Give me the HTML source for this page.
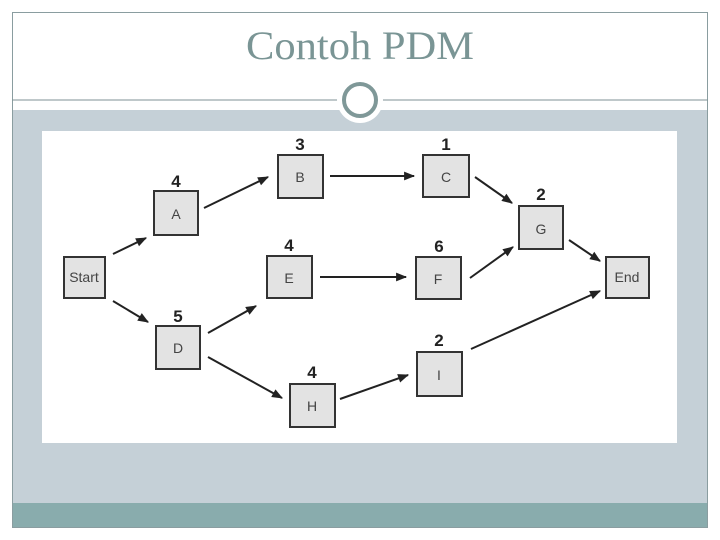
<!DOCTYPE html>
<html><head><style>
html,body{margin:0;padding:0;background:#fff;}
svg{display:block;}
</style></head><body>
<svg width="720" height="540" viewBox="0 0 720 540" xmlns="http://www.w3.org/2000/svg">
<defs>
<marker id="ar" viewBox="0 0 10 10" refX="9" refY="5" markerWidth="13" markerHeight="11" orient="auto" markerUnits="userSpaceOnUse">
<path d="M0,1 L10,5 L0,9 z" fill="#222"/>
</marker>
</defs>
<rect x="0" y="0" width="720" height="540" fill="#fff"/>
<rect x="12" y="110" width="696" height="393" fill="#c5d0d7"/>
<rect x="12" y="503" width="696" height="24" fill="#89acad"/>
<rect x="12.5" y="12.5" width="695" height="515" fill="none" stroke="#8a9da0" stroke-width="1"/>
<line x1="12" y1="100" x2="708" y2="100" stroke="#7f9294" stroke-width="1"/>
<circle cx="360" cy="100" r="23" fill="#fff"/>
<circle cx="360" cy="100" r="16" fill="#fff" stroke="#7f9898" stroke-width="4"/>
<text x="360" y="59" text-anchor="middle" font-family="Liberation Serif, serif" font-size="40" fill="#7a9595" textLength="228" lengthAdjust="spacingAndGlyphs">Contoh PDM</text>
<rect x="42" y="131" width="635" height="312" fill="#fff"/>
<g stroke="#222" stroke-width="2">
<line x1="113" y1="254" x2="146" y2="238" marker-end="url(#ar)"/>
<line x1="113" y1="301" x2="148" y2="322" marker-end="url(#ar)"/>
<line x1="204" y1="208" x2="268" y2="177" marker-end="url(#ar)"/>
<line x1="330" y1="176" x2="414" y2="176" marker-end="url(#ar)"/>
<line x1="475" y1="177" x2="512" y2="203" marker-end="url(#ar)"/>
<line x1="208" y1="333" x2="256" y2="306" marker-end="url(#ar)"/>
<line x1="208" y1="357" x2="282" y2="398" marker-end="url(#ar)"/>
<line x1="320" y1="277" x2="406" y2="277" marker-end="url(#ar)"/>
<line x1="470" y1="278" x2="513" y2="247" marker-end="url(#ar)"/>
<line x1="569" y1="240" x2="600" y2="261" marker-end="url(#ar)"/>
<line x1="340" y1="399" x2="408" y2="375" marker-end="url(#ar)"/>
<line x1="471" y1="349" x2="600" y2="291" marker-end="url(#ar)"/>
</g>
<g fill="#e3e3e3" stroke="#333" stroke-width="2">
<rect x="64" y="257" width="41" height="41"/>
<rect x="154" y="191" width="44" height="44"/>
<rect x="278" y="155" width="45" height="43"/>
<rect x="423" y="155" width="46" height="42"/>
<rect x="519" y="206" width="44" height="43"/>
<rect x="267" y="256" width="45" height="42"/>
<rect x="416" y="257" width="45" height="42"/>
<rect x="606" y="257" width="43" height="41"/>
<rect x="156" y="326" width="44" height="43"/>
<rect x="290" y="384" width="45" height="43"/>
<rect x="417" y="352" width="45" height="44"/>
</g>
<g font-family="Liberation Sans, sans-serif" font-size="14" fill="#444" text-anchor="middle">
<text x="84" y="282">Start</text>
<text x="176" y="219">A</text>
<text x="300" y="182">B</text>
<text x="446" y="182">C</text>
<text x="541" y="234">G</text>
<text x="289" y="283">E</text>
<text x="438" y="284">F</text>
<text x="627" y="282">End</text>
<text x="178" y="353">D</text>
<text x="312" y="411">H</text>
<text x="439" y="380">I</text>
</g>
<g font-family="Liberation Sans, sans-serif" font-size="17" font-weight="bold" fill="#222" text-anchor="middle">
<text x="176" y="187">4</text>
<text x="300" y="150">3</text>
<text x="446" y="150">1</text>
<text x="541" y="200">2</text>
<text x="289" y="251">4</text>
<text x="439" y="252">6</text>
<text x="178" y="322">5</text>
<text x="312" y="378">4</text>
<text x="439" y="346">2</text>
</g>
</svg>
</body></html>
